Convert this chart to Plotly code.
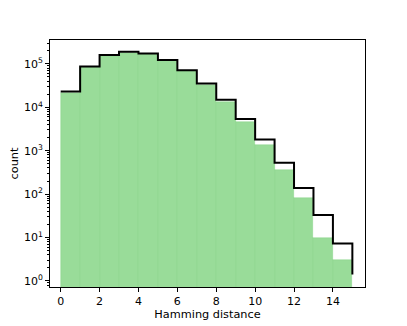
import plotly.graph_objects as go

# Histogram of Hamming distances (bins of width 1)
bin_edges = list(range(16))
observed = [21300, 84000, 155000, 181600, 170000, 120000, 69000, 33000,
            13500, 4500, 1365, 365, 83, 10, 3]
expected = [23200, 86700, 160800, 191500, 174000, 123600, 71700, 35300,
            14900, 5390, 1806, 527, 138, 33, 7.3, 1.4]

ytick_vals = [1, 10, 100, 1000, 10000, 100000]
ytick_text = ["10<sup>%d</sup>" % i for i in range(6)]
xtick_vals = [0, 2, 4, 6, 8, 10, 12, 14]

centers = [e + 0.5 for e in bin_edges[:-1]]

fig = go.Figure()
fig.add_trace(go.Bar(
    x=centers, y=observed, width=1,
    marker=dict(color="#99dc99", line=dict(color="rgba(120,205,120,0.6)", width=0.6)),
))
fig.add_trace(go.Scatter(
    x=bin_edges, y=expected, mode="lines", line_shape="hv",
    line=dict(color="black", width=2),
))

axis_common = dict(
    showline=True, linecolor="black", linewidth=1, mirror=True, automargin=False,
    ticks="outside", ticklen=4, tickcolor="black", showgrid=False, zeroline=False,
    tickfont=dict(size=11, color="black"),
)
fig.update_xaxes(
    range=[-0.55, 15.65], tickvals=xtick_vals,
    title=dict(text="Hamming distance", font=dict(size=11.3, color="black"), standoff=1),
    **axis_common,
)
fig.update_yaxes(
    type="log", range=[-0.14, 5.55], tickvals=ytick_vals, ticktext=ytick_text,
    title=dict(text="count", font=dict(size=11.3, color="black"), standoff=4),
    minor=dict(ticks="outside", ticklen=2, tickcolor="black", dtick="D1", showgrid=False),
    **axis_common,
)
# the page body adds an 8px margin, so the figure is a bit smaller than the window
fig.update_layout(
    width=399, height=318, showlegend=False, bargap=0,
    paper_bgcolor="white", plot_bgcolor="white",
    margin=dict(l=42, r=42, t=32, b=39),
    font=dict(family="DejaVu Sans", size=11, color="black"),
)

fig.write_html("out.html")
